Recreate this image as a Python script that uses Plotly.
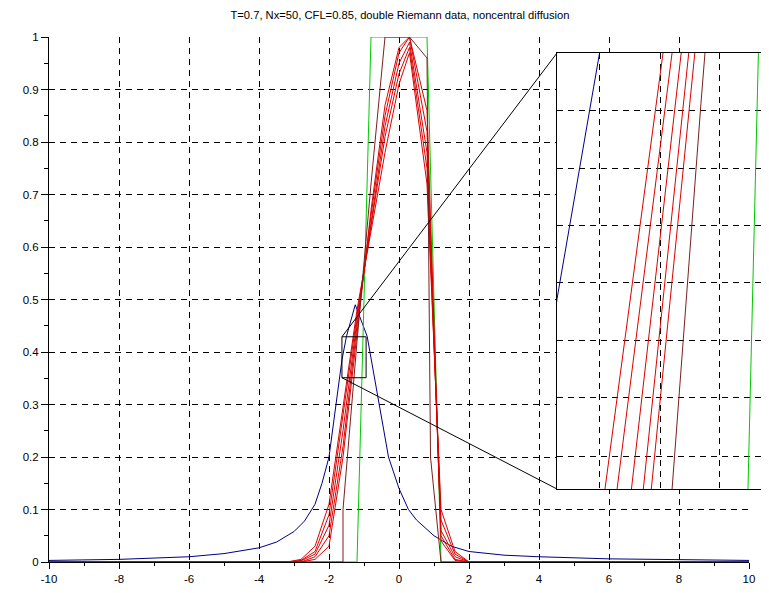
import plotly.graph_objects as go

# ---------------- data ----------------
title_text = "T=0.7, Nx=50, CFL=0.85, double Riemann data, noncentral diffusion"

x_ticks = [-10, -8, -6, -4, -2, 0, 2, 4, 6, 8, 10]
x_ticktext = ["-10", "-8", "-6", "-4", "-2", "0", "2", "4", "6", "8", "10"]
y_ticks = [0, 0.1, 0.2, 0.3, 0.4, 0.5, 0.6, 0.7, 0.8, 0.9, 1.0]
y_ticktext = ["0", "0.1", "0.2", "0.3", "0.4", "0.5", "0.6", "0.7", "0.8", "0.9", "1"]

# exact solution (green)
exact_x = [-10, -1.2, -0.8, 0.8, 1.2, 10]
exact_y = [0, 0, 1, 1, 0, 0]

# blue curve
blue_x = [-10, -8, -6, -5, -4, -3.5, -3, -2.7, -2.4, -2.2, -2.0, -1.63, -1.5, -1.25,
          -0.91, -0.54, -0.3, 0.0, 0.27, 0.5, 1.0, 1.5, 2.0, 3.0, 4.0, 6.0, 8.0, 10.0]
blue_y = [0.003, 0.005, 0.01, 0.016, 0.027, 0.038, 0.058, 0.078, 0.11, 0.15, 0.2, 0.385, 0.43, 0.49,
          0.43, 0.29, 0.2, 0.14, 0.1, 0.08, 0.05, 0.03, 0.02, 0.013, 0.01, 0.006, 0.004, 0.003]

# numerical solutions (red)
red_x = [-10, -3.2, -2.8, -2.4, -2.0, -1.6, -1.2, -0.8, -0.4, 0.0, 0.3, 0.8, 1.2, 1.6, 2.0, 10]
red_1 = [0, 0, 0.005, 0.03, 0.11, 0.30, 0.48, 0.63, 0.78, 0.91, 0.97, 0.72, 0.10, 0.02, 0, 0]
red_2 = [0, 0, 0.003, 0.02, 0.09, 0.28, 0.47, 0.64, 0.81, 0.93, 0.98, 0.75, 0.08, 0.015, 0, 0]
red_3 = [0, 0, 0.002, 0.015, 0.07, 0.25, 0.46, 0.65, 0.83, 0.95, 0.99, 0.78, 0.06, 0.01, 0, 0]
red_4 = [0, 0, 0, 0.01, 0.05, 0.22, 0.45, 0.66, 0.85, 0.97, 1.0, 0.82, 0.05, 0.005, 0, 0]
red_5 = [0, 0, 0, 0.005, 0.03, 0.20, 0.44, 0.67, 0.87, 0.98, 1.0, 0.86, 0.04, 0.003, 0, 0]
red_series = [red_1, red_2, red_3, red_4, red_5]

brown_x = [-10, -1.6, -1.6, -1.2, -0.8, -0.4, 0.3, 0.8, 0.9, 1.2, 10]
brown_y = [0, 0, 0.1, 0.42, 0.72, 1.0, 1.0, 0.96, 0.2, 0, 0]

# zoom window shown in the inset
zoom_x = [-1.63, -0.94]
zoom_y = [0.351, 0.429]
inset_grid_x = [-1.502, -1.321, -1.146]
inset_grid_y = [0.3569, 0.3673, 0.3775, 0.3879, 0.3981, 0.4084, 0.4188]

# ---------------- layout geometry ----------------
# the page body has an 8px margin, so the figure is placed at (8, 8) in the window
OFF = 8
WIN_W, WIN_H = 769, 593
W, H = WIN_W - OFF, WIN_H - OFF


def fx(px):
    return (px - OFF) / W


def fy(px):
    return 1 - (px - OFF) / H


main_dom_x = [fx(49), fx(749)]
main_dom_y = [fy(562), fy(37)]
inset_dom_x = [fx(557), 1.0]
inset_dom_y = [fy(489), fy(53)]
inset_full_w = 231  # px width of the (partly cut) inset box
visible_frac = (WIN_W - 557) / inset_full_w
inset_range_x = [zoom_x[0], zoom_x[0] + (zoom_x[1] - zoom_x[0]) * visible_frac]

RED = "#dc0000"
BROWN = "#7a1f1f"
BLUE = "#000080"
GREEN = "#00c800"
GRIDDASH = "6px,5px"
FONT = "Liberation Sans, Arial, sans-serif"

fig = go.Figure()


def add_all(xa, ya):
    fig.add_trace(go.Scatter(x=blue_x, y=blue_y, mode="lines", line=dict(color=BLUE, width=1),
                             xaxis=xa, yaxis=ya, showlegend=False, hoverinfo="skip"))
    fig.add_trace(go.Scatter(x=exact_x, y=exact_y, mode="lines", line=dict(color=GREEN, width=1),
                             xaxis=xa, yaxis=ya, showlegend=False, hoverinfo="skip"))
    for ys in red_series:
        fig.add_trace(go.Scatter(x=red_x, y=ys, mode="lines", line=dict(color=RED, width=1),
                                 xaxis=xa, yaxis=ya, showlegend=False, hoverinfo="skip"))
    fig.add_trace(go.Scatter(x=brown_x, y=brown_y, mode="lines", line=dict(color=BROWN, width=1),
                             xaxis=xa, yaxis=ya, showlegend=False, hoverinfo="skip"))


add_all("x", "y")
add_all("x2", "y2")


def to_paper_x(v):
    r0, r1 = -10, 10
    return main_dom_x[0] + (v - r0) / (r1 - r0) * (main_dom_x[1] - main_dom_x[0])


def to_paper_y(v):
    r0, r1 = 0, 1
    return main_dom_y[0] + (v - r0) / (r1 - r0) * (main_dom_y[1] - main_dom_y[0])


shapes = [
    dict(type="rect", xref="x", yref="y", x0=zoom_x[0], x1=zoom_x[1], y0=zoom_y[0], y1=zoom_y[1],
         line=dict(color="black", width=1), layer="above"),
    dict(type="line", xref="paper", yref="paper",
         x0=to_paper_x(zoom_x[0]), y0=to_paper_y(zoom_y[1]), x1=inset_dom_x[0], y1=inset_dom_y[1],
         line=dict(color="black", width=1), layer="above"),
    dict(type="line", xref="paper", yref="paper",
         x0=to_paper_x(zoom_x[0]), y0=to_paper_y(zoom_y[0]), x1=inset_dom_x[0], y1=inset_dom_y[0],
         line=dict(color="black", width=1), layer="above"),
]

fig.update_layout(
    width=W, height=H, autosize=False,
    margin=dict(l=0, r=0, t=0, b=0, pad=0, autoexpand=False),
    paper_bgcolor="white", plot_bgcolor="white",
    font=dict(family=FONT, size=11.5, color="black"),
    title=dict(text=title_text, x=fx(400), xanchor="center", y=fy(15), yanchor="middle",
               automargin=False,
               font=dict(family=FONT, size=11.2, color="black")),
    shapes=shapes,
    xaxis=dict(domain=main_dom_x, range=[-10, 10], anchor="y", automargin=False,
               tickvals=x_ticks, ticktext=x_ticktext, ticks="outside", ticklen=6,
               tickcolor="black", tickwidth=1,
               showline=True, linecolor="black", linewidth=1, zeroline=False,
               showgrid=True, gridcolor="black", gridwidth=1, griddash=GRIDDASH,
               minor=dict(dtick=1, ticks="outside", ticklen=3, tickcolor="black", showgrid=False),
               tickfont=dict(size=11.5, family=FONT, color="black")),
    yaxis=dict(domain=main_dom_y, range=[0, 1], anchor="x", automargin=False,
               tickvals=y_ticks, ticktext=y_ticktext, ticks="outside", ticklen=7,
               tickcolor="black", tickwidth=1,
               showline=True, linecolor="black", linewidth=1, zeroline=False,
               showgrid=True, gridcolor="black", gridwidth=1, griddash=GRIDDASH,
               minor=dict(dtick=0.05, ticks="outside", ticklen=4, tickcolor="black", showgrid=False),
               tickfont=dict(size=11.5, family=FONT, color="black")),
    xaxis2=dict(domain=inset_dom_x, range=inset_range_x, anchor="y2", automargin=False,
                tickvals=inset_grid_x, showticklabels=False, ticks="",
                showline=True, mirror=True, linecolor="black", linewidth=1, zeroline=False,
                showgrid=True, gridcolor="black", gridwidth=1, griddash=GRIDDASH),
    yaxis2=dict(domain=inset_dom_y, range=zoom_y, anchor="x2", automargin=False,
                tickvals=inset_grid_y, showticklabels=False, ticks="",
                showline=True, mirror=False, linecolor="black", linewidth=1, zeroline=False,
                showgrid=True, gridcolor="black", gridwidth=1, griddash=GRIDDASH),
)

fig.write_html("out.html")
